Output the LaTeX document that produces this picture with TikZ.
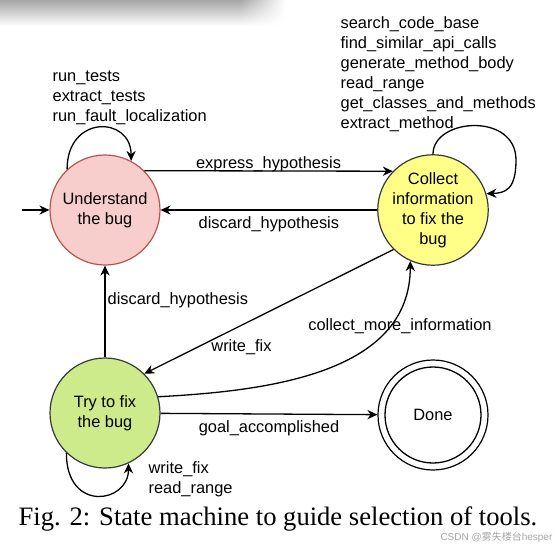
\documentclass[tikz,border=0pt]{standalone}
\usepackage{fontspec}
\setmainfont{Liberation Serif}
\setsansfont{Liberation Sans}
\newfontfamily\cjkfont{Noto Sans CJK SC}
\usetikzlibrary{arrows.meta, fadings}
\definecolor{undfill}{HTML}{F8CECC}\definecolor{undline}{HTML}{B85450}
\definecolor{colfill}{HTML}{FFFF88}\definecolor{tryfill}{HTML}{CDEB8B}
\definecolor{darkline}{HTML}{36393D}
\tikzset{state/.style={circle, draw=darkline, line width=0.6pt, minimum size=55pt, inner sep=0pt, align=center},
  lbl/.style={align=left, anchor=west, inner sep=0pt}}

\begin{document}
\begin{tikzpicture}[x=0.5pt, y=-0.5pt, font=\sffamily\fontsize{8.2}{10}\selectfont, >={Stealth[length=5pt, width=4.6pt]}, line width=0.65pt]
\useasboundingbox (0,0) rectangle (557,547);
\shade[top color=black!35, bottom color=white] (0,0) rectangle (240,26);
\shade[top color=black!35, bottom color=white, path fading=east] (240,0) rectangle (285,26);
\node[state, fill=undfill, draw=undline] (und) at (105,210) {Understand\\the bug};
\node[state, fill=colfill] (col) at (433,210) {Collect\\information\\to fix the\\bug};
\node[state, fill=tryfill] (try) at (105,413) {Try to fix\\the bug};
\node[state, draw=black] (done) at (433,415) {Done}; \draw (done.center) circle (24pt);
\coordinate (start) at (22,210); \draw[->] (start) -- (und);
\draw[->] (und.45) -- (col.136) node[midway, yshift=3.5pt] {express\_hypothesis};
\draw[->] (col) -- (und) node[midway, yshift=-7pt] {discard\_hypothesis};
\draw[->] (try) -- (und) node[pos=0.62, anchor=west, inner sep=1pt] {discard\_hypothesis};
\draw[->] (col.225) -- (try.45) node[pos=0.61, below=3.5pt] {write\_fix};
\draw[->] (try.17) to[out=3, in=270] (col.246); \node (cmi) at (400,326) {collect\_more\_information};
\draw[->] (try) -- (done) node[midway, yshift=-7pt] {goal\_accomplished};
\draw[->] (und.133) .. controls +(0,-55) and +(0,-45) .. (und.62);
\node[lbl] (undtools) at (52,98) {run\_tests\\extract\_tests\\run\_fault\_localization};
\draw[->] (col.90) .. controls (433,118) and (516,112) .. (516,160) .. controls (516,190) and (505,193) .. (col.17);
\node[lbl] (coltools) at (340,74) {search\_code\_base\\find\_similar\_api\_calls\\generate\_method\_body\\read\_range\\get\_classes\_and\_methods\\extract\_method};
\draw[->] (try.226) .. controls +(0,60) and +(0,40) .. (try.295);
\node[lbl] (trytools) at (148,479) {write\_fix\\read\_range};
\node[font=\rmfamily\fontsize{13.3}{15}\selectfont] (caption) at (278,519) {Fig. 2: State machine to guide selection of tools.};
\node[anchor=east, text=black!35, inner sep=0pt, font=\sffamily\fontsize{5}{6}\selectfont] (mark) at (553,537) {CSDN @{\cjkfont 雾失楼台}hesper};
\end{tikzpicture}
\end{document}
